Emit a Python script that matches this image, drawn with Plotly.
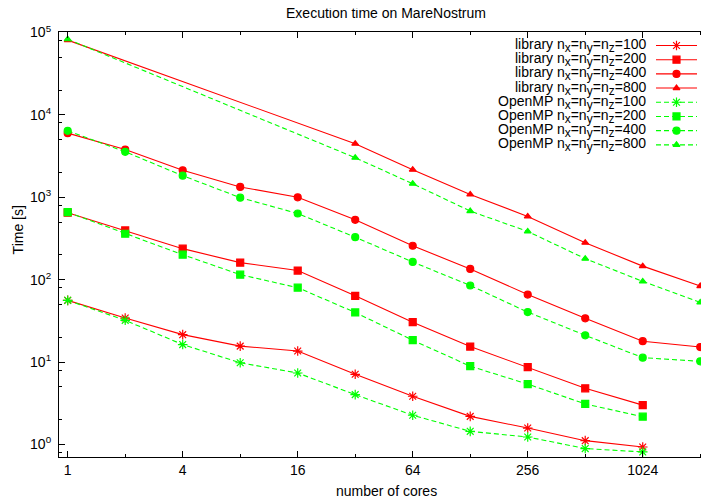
import plotly.graph_objects as go

# ---------------- data ----------------
cores = [1, 2, 4, 8, 16, 32, 64, 128, 256, 512, 1024, 2048]
cores_800 = [1, 32, 64, 128, 256, 512, 1024, 2048]

lib_100 = [56.1, 34.2, 21.5, 15.6, 13.6, 7.1, 3.84, 2.19, 1.58, 1.11, 0.93]
omp_100 = [56.1, 32.1, 16.3, 9.8, 7.36, 4.02, 2.26, 1.44, 1.23, 0.89, 0.81]
lib_200 = [650, 396, 238, 161, 129, 63.6, 30.5, 15.4, 8.65, 4.8, 3.0]
omp_200 = [660, 361, 201, 115, 80, 40, 18.4, 8.9, 5.4, 3.1, 2.17]
lib_400 = [6010, 3800, 2125, 1336, 1000, 533, 258, 135, 66, 33.9, 17.9, 15.2]
omp_400 = [6410, 3570, 1830, 991, 636, 328, 164, 85, 40.4, 21.1, 11.3, 10.2]
lib_800 = [81000, 4470, 2163, 1084, 586, 281, 146, 83.6]
omp_800 = [83000, 3025, 1462, 681, 385, 180, 95.3, 53]

x_tickvals = [1, 4, 16, 64, 256, 1024]
x_ticktext = ["1", "4", "16", "64", "256", "1024"]
x_minor = [2, 8, 32, 128, 512, 2048]
y_tickvals = [1, 10, 100, 1000, 10000, 100000]
y_ticktext = ["10<sup>0</sup>", "10<sup>1</sup>", "10<sup>2</sup>", "10<sup>3</sup>",
              "10<sup>4</sup>", "10<sup>5</sup>"]
y_minor = [0.8, 2, 5, 8, 20, 50, 80, 200, 500, 800, 2000, 5000, 8000,
           20000, 50000, 80000]

SUB = "<sub><span style='font-size:12px'>{}</span></sub>"
NX = "n" + SUB.format("x") + "=n" + SUB.format("y") + "=n" + SUB.format("z")
names = [
    "library " + NX + "=100",
    "library " + NX + "=200",
    "library " + NX + "=400",
    "library " + NX + "=800",
    "OpenMP " + NX + "=100",
    "OpenMP " + NX + "=200",
    "OpenMP " + NX + "=400",
    "OpenMP " + NX + "=800",
]

RED = "#ff0000"
GREEN = "#00ff00"
FONT = "Liberation Sans, Arial, sans-serif"

series = [
    (cores[:len(lib_100)], lib_100, RED, "solid", "asterisk-open", 8),
    (cores[:len(lib_200)], lib_200, RED, "solid", "square", 7),
    (cores[:len(lib_400)], lib_400, RED, "solid", "circle", 7),
    (cores_800, lib_800, RED, "solid", "triangle-up", 6),
    (cores[:len(omp_100)], omp_100, GREEN, "5px,3px", "asterisk-open", 8),
    (cores[:len(omp_200)], omp_200, GREEN, "5px,3px", "square", 7),
    (cores[:len(omp_400)], omp_400, GREEN, "5px,3px", "circle", 7),
    (cores_800, omp_800, GREEN, "5px,3px", "triangle-up", 6),
]

fig = go.Figure()
for (xs, ys, col, dash, sym, sz), nm in zip(series, names):
    fig.add_trace(go.Scatter(
        x=xs, y=ys, mode="lines+markers", name=nm, showlegend=False,
        line=dict(color=col, width=1.1, dash=dash),
        marker=dict(symbol=sym, size=sz, color=col,
                    line=dict(color=col, width=1.2)),
    ))

# The page body adds an 8px offset; target positions below are in screenshot pixels.
OFF = 8
L, R, T, B = 59, 708, 31.5, 456.7
W, H = R - L, B - T
def px(xp):
    return (xp - L) / W
def py(yp):
    return (B - yp) / H

annotations = []
for i, ((xs, ys, col, dash, sym, sz), nm) in enumerate(zip(series, names)):
    yc = 45 + 14.2 * i
    annotations.append(dict(
        x=px(648), y=py(yc), xref="paper", yref="paper", text=nm,
        showarrow=False, xanchor="right", yanchor="middle",
        font=dict(family=FONT, size=14, color="black"),
    ))
    fig.add_trace(go.Scatter(
        x=[px(656), px(697)], y=[py(yc), py(yc)], xaxis="x2", yaxis="y2",
        mode="lines", showlegend=False, hoverinfo="skip",
        line=dict(color=col, width=1.1, dash=dash),
    ))
    fig.add_trace(go.Scatter(
        x=[px(676.5)], y=[py(yc)], xaxis="x2", yaxis="y2",
        mode="markers", showlegend=False, hoverinfo="skip",
        marker=dict(symbol=sym, size=sz, color=col,
                    line=dict(color=col, width=1.2)),
    ))

annotations.append(dict(
    x=px(386.5), y=py(491), xref="paper", yref="paper", text="number of cores",
    showarrow=False, xanchor="center", yanchor="middle",
    font=dict(family=FONT, size=14, color="black"),
))
annotations.append(dict(
    x=px(18), y=py(230), xref="paper", yref="paper", text="Time [s]",
    showarrow=False, xanchor="center", yanchor="middle", textangle=-90,
    font=dict(family=FONT, size=14, color="black"),
))

fig.update_layout(
    width=709, height=503,
    margin=dict(l=L - OFF, r=709 - (R - OFF), t=T - OFF, b=503 - (B - OFF), pad=0),
    paper_bgcolor="white", plot_bgcolor="white",
    font=dict(family=FONT, size=14, color="black"),
    title=dict(text="Execution time on MareNostrum", x=(386 - OFF) / 709,
               xref="container", xanchor="center", y=1 - (13.5 - OFF) / 503,
               yref="container", yanchor="middle",
               font=dict(family=FONT, size=14, color="black")),
    showlegend=False,
    annotations=annotations,
    xaxis=dict(
        type="log", range=[-0.0455, 3.352],
        tickmode="array", tickvals=x_tickvals, ticktext=x_ticktext,
        ticks="inside", ticklen=6, tickwidth=1, tickcolor="black",
        showline=True, linecolor="black", linewidth=1.2, mirror="allticks",
        showgrid=False, zeroline=False,
        minor=dict(tickmode="array", tickvals=x_minor, ticks="inside",
                   ticklen=3, tickcolor="black", showgrid=False),
    ),
    yaxis=dict(
        type="log", range=[-0.153, 5.007],
        tickmode="array", tickvals=y_tickvals, ticktext=y_ticktext,
        ticks="inside", ticklen=6, tickwidth=1, tickcolor="black",
        showline=True, linecolor="black", linewidth=1.2, mirror="allticks",
        showgrid=False, zeroline=False, ticklabelstandoff=4,
        minor=dict(tickmode="array", tickvals=y_minor, ticks="inside",
                   ticklen=3, tickcolor="black", showgrid=False),
    ),
    xaxis2=dict(overlaying="x", range=[0, 1], visible=False, fixedrange=True),
    yaxis2=dict(overlaying="y", range=[0, 1], visible=False, fixedrange=True),
)

fig.write_html("out.html")
